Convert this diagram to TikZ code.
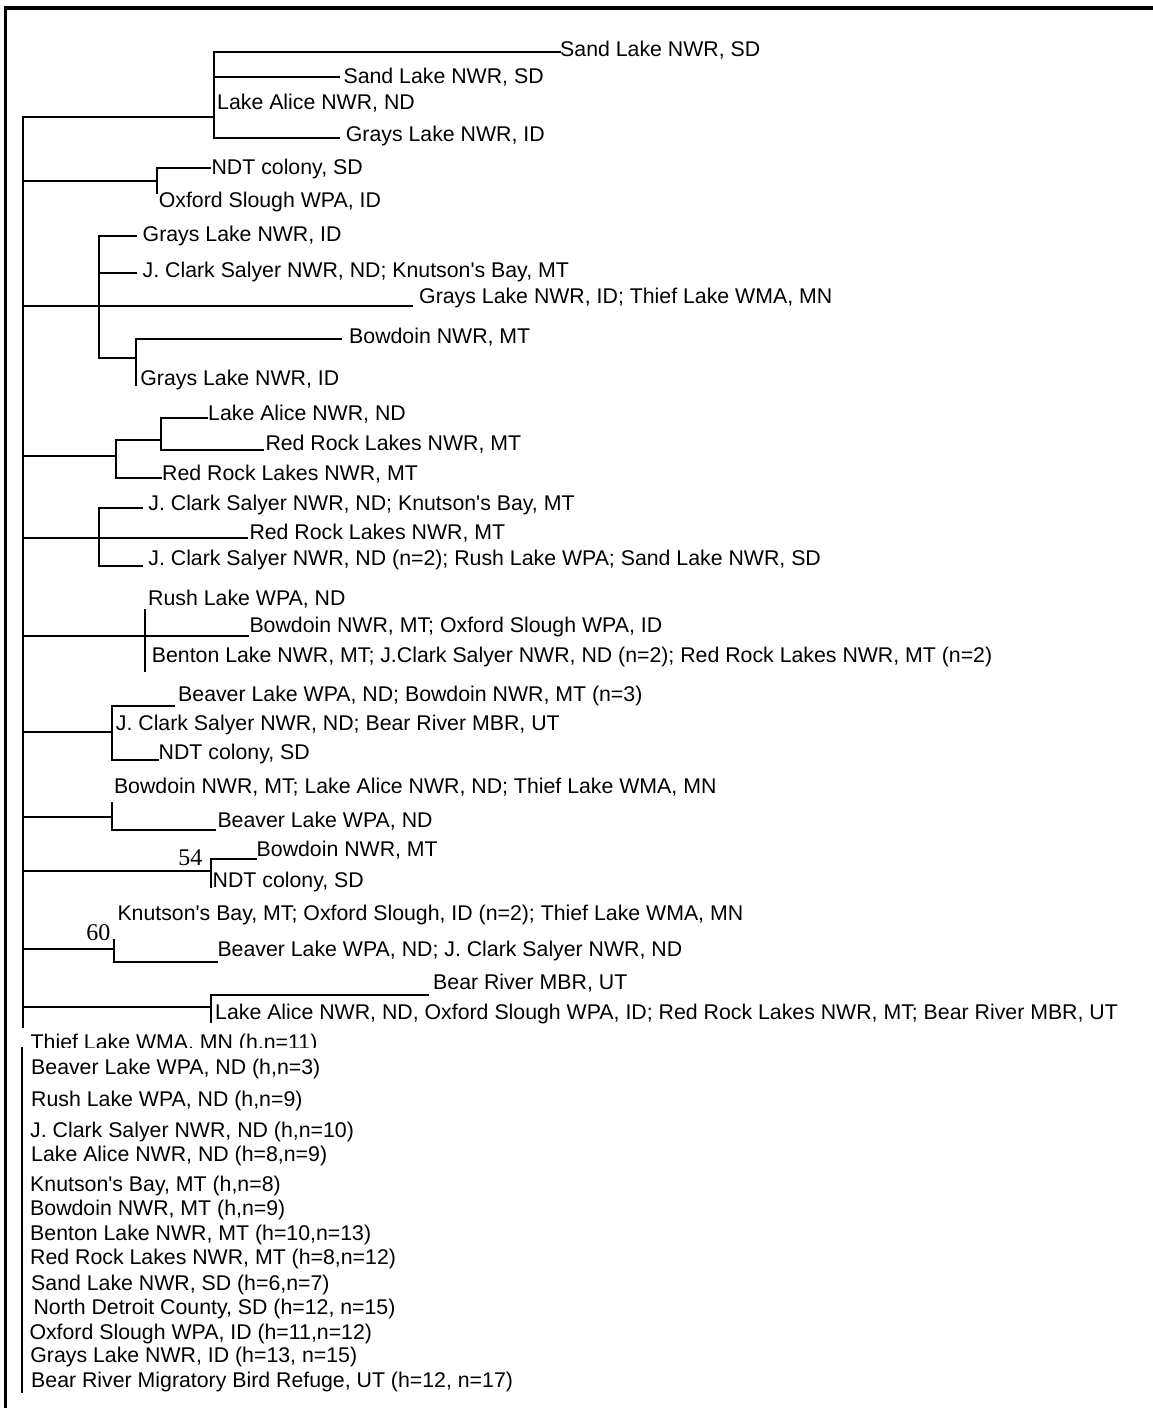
\documentclass[tikz,border=0pt]{standalone}
\usepackage{fontspec}
\setmainfont{Liberation Sans}[Ligatures=TeXOff]
\newfontfamily\numfont{Liberation Serif}
\begin{document}
\begin{tikzpicture}[x=1pt,y=-1pt,
  tree/.style={line width=2pt,line cap=rect,line join=miter},
  frame/.style={line width=3.6pt},
  lbl/.style={anchor=west,inner sep=0pt,font=\fontsize{21.3}{23}\selectfont,text height=15.25pt,text depth=0pt},
  num/.style={anchor=east,inner sep=0pt,font=\numfont\fontsize{24}{26}\selectfont,text height=16.2pt,text depth=0pt}]
\useasboundingbox (0,0) rectangle (1153,1408);
% frame
\coordinate (fTL) at (5.5,8);
\coordinate (fTR) at (1153,8);
\coordinate (fBL) at (5.5,1408);
\draw[frame] (fTR) -- (fTL) -- (fBL);
% root
\coordinate (rt) at (23,117);
\coordinate (rm) at (23,1027);
\coordinate (rm2) at (22,1048);
\coordinate (rb) at (22,1392);
\draw[tree] (rt) -- (rm);
\draw[tree] (rm2) -- (rb);
% branch 1
\coordinate (b1) at (213.5,117);
\coordinate (e1a) at (560,52);
\coordinate (e1b) at (338.7,77);
\coordinate (e1c) at (338.7,138);
\draw[tree] (rt) -- (b1);
\draw[tree] (e1a) -| (b1) |- (e1c);
\draw[tree] (b1 |- e1b) -- (e1b);
\node[lbl] (s1) at (560,48.5) {Sand Lake NWR, SD};
\node[lbl] (s2) at (343.4,76) {Sand Lake NWR, SD};
\node[lbl] (s3) at (217,101.7) {Lake Alice NWR, ND};
\node[lbl] (s4) at (345.7,134) {Grays Lake NWR, ID};
% branch 2
\coordinate (b2) at (157.3,181);
\coordinate (e2a) at (210,168);
\coordinate (e2b) at (157.3,193);
\draw[tree] (rt |- b2) -- (b2);
\draw[tree] (e2a) -| (e2b);
\node[lbl] (s5) at (211.4,167) {NDT colony, SD};
\node[lbl] (s6) at (158.6,200) {Oxford Slough WPA, ID};
% branch 3
\coordinate (b3) at (98.7,306);
\coordinate (e3) at (412,306);
\coordinate (e3a) at (135.5,236);
\coordinate (e3b) at (135.5,273);
\coordinate (b3s) at (135.5,358);
\coordinate (e3c) at (341,339);
\coordinate (e3d) at (135.5,385);
\draw[tree] (rt |- b3) -- (e3);
\draw[tree] (e3a) -| (b3) |- (b3s);
\draw[tree] (b3 |- e3b) -- (e3b);
\draw[tree] (e3c) -| (e3d);
\node[lbl] (s7) at (419,296) {Grays Lake NWR, ID; Thief Lake WMA, MN};
\node[lbl] (s8) at (142.5,234) {Grays Lake NWR, ID};
\node[lbl] (s9) at (142.5,270) {J. Clark Salyer NWR, ND; Knutson's Bay, MT};
\node[lbl] (s10) at (349,336) {Bowdoin NWR, MT};
\node[lbl] (s11) at (140.2,378) {Grays Lake NWR, ID};
% branch 4
\coordinate (b4) at (116,456);
\coordinate (b4a) at (160.7,440);
\coordinate (e4c) at (160.7,478);
\coordinate (e4a) at (206.6,418);
\coordinate (e4b) at (262.9,450);
\draw[tree] (rt |- b4) -- (b4);
\draw[tree] (b4a) -| (b4) |- (e4c);
\draw[tree] (e4a) -| (b4a) |- (e4b);
\node[lbl] (s12) at (208,413) {Lake Alice NWR, ND};
\node[lbl] (s13) at (265.3,442.5) {Red Rock Lakes NWR, MT};
\node[lbl] (s14) at (162,472.5) {Red Rock Lakes NWR, MT};
% branch 5
\coordinate (b5) at (98.7,538);
\coordinate (e5) at (246.8,538);
\coordinate (e5a) at (142.4,508);
\coordinate (e5c) at (142.4,566);
\draw[tree] (rt |- b5) -- (e5);
\draw[tree] (e5a) -| (b5) |- (e5c);
\node[lbl] (s15) at (148.2,502.5) {J. Clark Salyer NWR, ND; Knutson's Bay, MT};
\node[lbl] (s16) at (249.3,531.5) {Red Rock Lakes NWR, MT};
\node[lbl] (s17) at (148.2,557.5) {J. Clark Salyer NWR, ND (n=2); Rush Lake WPA; Sand Lake NWR, SD};
% branch 6
\coordinate (b6) at (144.6,636);
\coordinate (e6) at (248,636);
\coordinate (b6t) at (144.6,610);
\coordinate (b6b) at (144.6,671);
\draw[tree] (rt |- b6) -- (e6);
\draw[tree] (b6t) -- (b6b);
\node[lbl] (s18) at (148,598) {Rush Lake WPA, ND};
\node[lbl] (s19) at (249.3,625) {Bowdoin NWR, MT; Oxford Slough WPA, ID};
\node[lbl] (s20) at (151.7,655) {Benton Lake NWR, MT; J.Clark Salyer NWR, ND (n=2); Red Rock Lakes NWR, MT (n=2)};
% branch 7
\coordinate (b7) at (112,732);
\coordinate (e7a) at (174.4,706);
\coordinate (e7c) at (157.5,760);
\draw[tree] (rt |- b7) -- (b7);
\draw[tree] (e7a) -| (b7) |- (e7c);
\node[lbl] (s21) at (178,693.5) {Beaver Lake WPA, ND; Bowdoin NWR, MT (n=3)};
\node[lbl] (s22) at (115.7,722.5) {J. Clark Salyer NWR, ND; Bear River MBR, UT};
\node[lbl] (s23) at (158.5,752) {NDT colony, SD};
% branch 8
\coordinate (b8) at (112,817);
\coordinate (b8t) at (112,803);
\coordinate (e8) at (214.5,830);
\draw[tree] (rt |- b8) -- (b8);
\draw[tree] (b8t) |- (e8);
\node[lbl] (s24) at (113.8,786) {Bowdoin NWR, MT; Lake Alice NWR, ND; Thief Lake WMA, MN};
\node[lbl] (s25) at (217.3,820) {Beaver Lake WPA, ND};
% branch 9
\coordinate (b9) at (210.5,871);
\coordinate (e9a) at (256,859);
\coordinate (b9b) at (210.5,887);
\draw[tree] (rt |- b9) -- (b9);
\draw[tree] (e9a) -| (b9b);
\node[lbl] (s26) at (256.5,848.5) {Bowdoin NWR, MT};
\node[lbl] (s27) at (212.5,880) {NDT colony, SD};
\node[num] (v54) at (202.5,857.5) {54};
% branch 10
\coordinate (b10) at (114,949);
\coordinate (b10t) at (114,940);
\coordinate (e10) at (216.5,962);
\draw[tree] (rt |- b10) -- (b10);
\draw[tree] (b10t) |- (e10);
\node[lbl] (s28) at (117.3,913) {Knutson's Bay, MT; Oxford Slough, ID (n=2); Thief Lake WMA, MN};
\node[lbl] (s29) at (217.3,949) {Beaver Lake WPA, ND; J. Clark Salyer NWR, ND};
\node[num] (v60) at (110.5,932.5) {60};
% branch 11
\coordinate (b11) at (210.5,1007);
\coordinate (e11a) at (428,995);
\coordinate (b11b) at (210.5,1022);
\draw[tree] (rt |- b11) -- (b11);
\draw[tree] (e11a) -| (b11b);
\node[lbl] (s30) at (433,982) {Bear River MBR, UT};
\node[lbl] (s31) at (215,1012) {Lake Alice NWR, ND, Oxford Slough WPA, ID; Red Rock Lakes NWR, MT; Bear River MBR, UT};
% clipped first list entry
\begin{scope}
\clip (18,1027) rectangle (700,1047.5);
\node[lbl] (h1) at (30.5,1041.6) {Thief Lake WMA, MN (h,n=11)};
\end{scope}
% list
\node[lbl] (h2) at (31,1066.5) {Beaver Lake WPA, ND (h,n=3)};
\node[lbl] (h3) at (31,1099) {Rush Lake WPA, ND (h,n=9)};
\node[lbl] (h4) at (30,1130) {J. Clark Salyer NWR, ND (h,n=10)};
\node[lbl] (h5) at (31,1153.5) {Lake Alice NWR, ND (h=8,n=9)};
\node[lbl] (h6) at (30,1184) {Knutson's Bay, MT (h,n=8)};
\node[lbl] (h7) at (30,1208) {Bowdoin NWR, MT (h,n=9)};
\node[lbl] (h8) at (30,1233) {Benton Lake NWR, MT (h=10,n=13)};
\node[lbl] (h9) at (30,1257) {Red Rock Lakes NWR, MT (h=8,n=12)};
\node[lbl] (h10) at (31,1282.5) {Sand Lake NWR, SD (h=6,n=7)};
\node[lbl] (h11) at (33.4,1306.8) {North Detroit County, SD (h=12, n=15)};
\node[lbl] (h12) at (29.3,1331.5) {Oxford Slough WPA, ID (h=11,n=12)};
\node[lbl] (h13) at (30.2,1355) {Grays Lake NWR, ID (h=13, n=15)};
\node[lbl] (h14) at (31,1379.8) {Bear River Migratory Bird Refuge, UT (h=12, n=17)};
\end{tikzpicture}
\end{document}
